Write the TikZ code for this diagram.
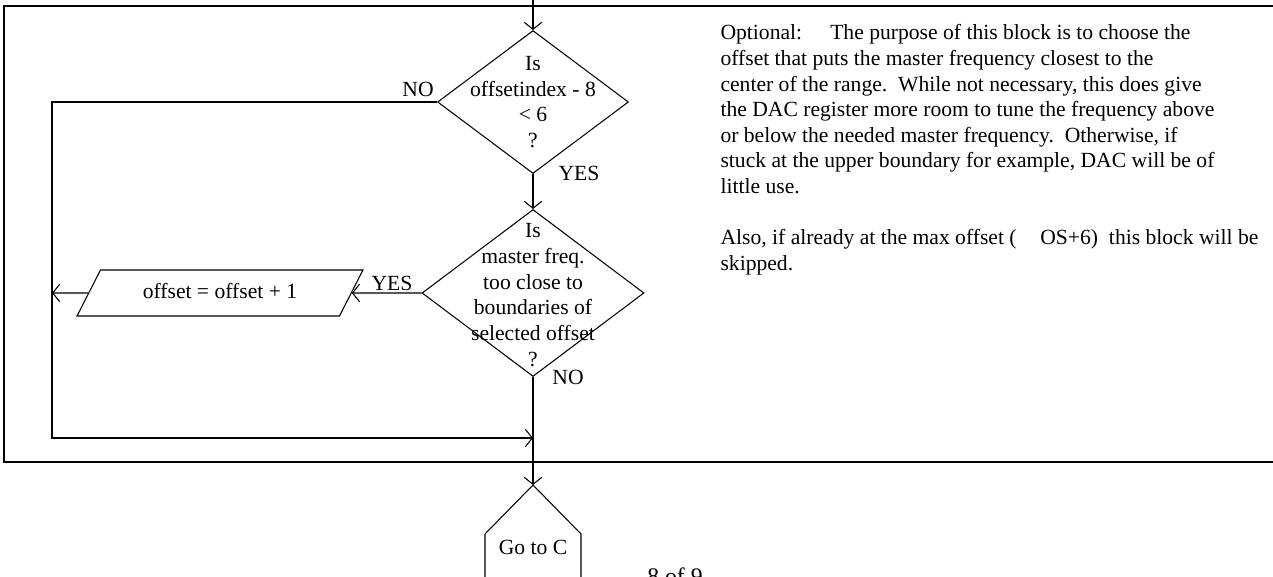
\documentclass[tikz,border=0pt]{standalone}
\usepackage{fontspec}
\setmainfont{Liberation Serif}
\usetikzlibrary{shapes.geometric, arrows.meta}

\begin{document}
\begin{tikzpicture}[x=0.02cm, y=-0.02cm, line width=0.6pt,
		every node/.style={font=\fontsize{12.3}{14.6}\selectfont},
		dec/.style={diamond, draw, inner sep=0pt},
		io/.style={trapezium, draw, trapezium left angle=63, trapezium right angle=117, trapezium stretches body, minimum width=5.72cm, inner xsep=0pt, inner ysep=7.5pt, text height=8.6pt, text depth=2.6pt},
		txt/.style={align=center, inner sep=0pt},
		arr/.style={-{Straight Barb[length=4pt, width=10pt]}},
		frame/.style={line width=1.2pt}]
		\useasboundingbox (0, 0) rectangle (1273, 577);
		\clip (0, 0) rectangle (1273, 577);

		\node[dec, minimum width=3.82cm, minimum height=2.86cm] (d1) at (533, 102) {};
		\node[txt] (d1t) at (533, 102) {Is\\offsetindex - 8\\< 6\\?};
		\node[dec, minimum width=4.44cm, minimum height=3.34cm] (d2) at (533, 293) {};
		\node[txt] (d2t) at (533, 295) {Is\\master freq.\\too close to\\boundaries of\\selected offset\\?};
		\node[io] (inc) at (220, 293) {offset = offset + 1};
		\node (gotoc) at (533, 547) {Go to C};

		\coordinate (in) at (533, -10);
		\coordinate (lft) at (52, 293);
		\coordinate (bl) at (52, 438);
		\coordinate (join) at (533, 438);
		\coordinate (gtop) at (533, 485);

		% frame of the optional block
		\draw[frame] (1290, 6) -- (4, 6) -- (4, 462) -- (1290, 462);

		\draw[arr] (in) -- (d1.north);
		\draw[arr] (d1.south) -- (d2.north);
		\draw[arr] (d1.west) -| (bl) -- (join);
		\draw[arr] (d2.west) -- (inc.east);
		\draw[arr] (inc.west) -- (lft);
		\draw[arr] (d2.south) -- (gtop);
		\draw (485, 600) -- (485, 534) -- (gtop) -- (581, 534) -- (581, 600);

		\node[txt] (no1) at (418, 89) {NO};
		\node[txt] (yes1) at (579, 173) {YES};
		\node[txt] (yes2) at (392, 283) {YES};
		\node[txt] (no2) at (568, 377) {NO};

		\node[anchor=north west, align=left, inner sep=0pt] (note) at (720, 24) {Optional:\hspace{1.3em}The purpose of this block is to choose the\\
			offset that puts the master frequency closest to the\\
			center of the range.\ \ While not necessary, this does give\\
			the DAC register more room to tune the frequency above\\
			or below the needed master frequency.\ \ Otherwise, if\\
			stuck at the upper boundary for example, DAC will be of\\
			little use.\\[14.6pt]
			Also, if already at the max offset (\hspace{1.1em}OS+6)\ \ this block will be\\
			skipped.};
		\node[anchor=base, inner sep=0pt, font=\fontsize{13.5}{16}\selectfont] (pnum) at (675, 584) {8 of 9};
	\end{tikzpicture}
\end{document}
